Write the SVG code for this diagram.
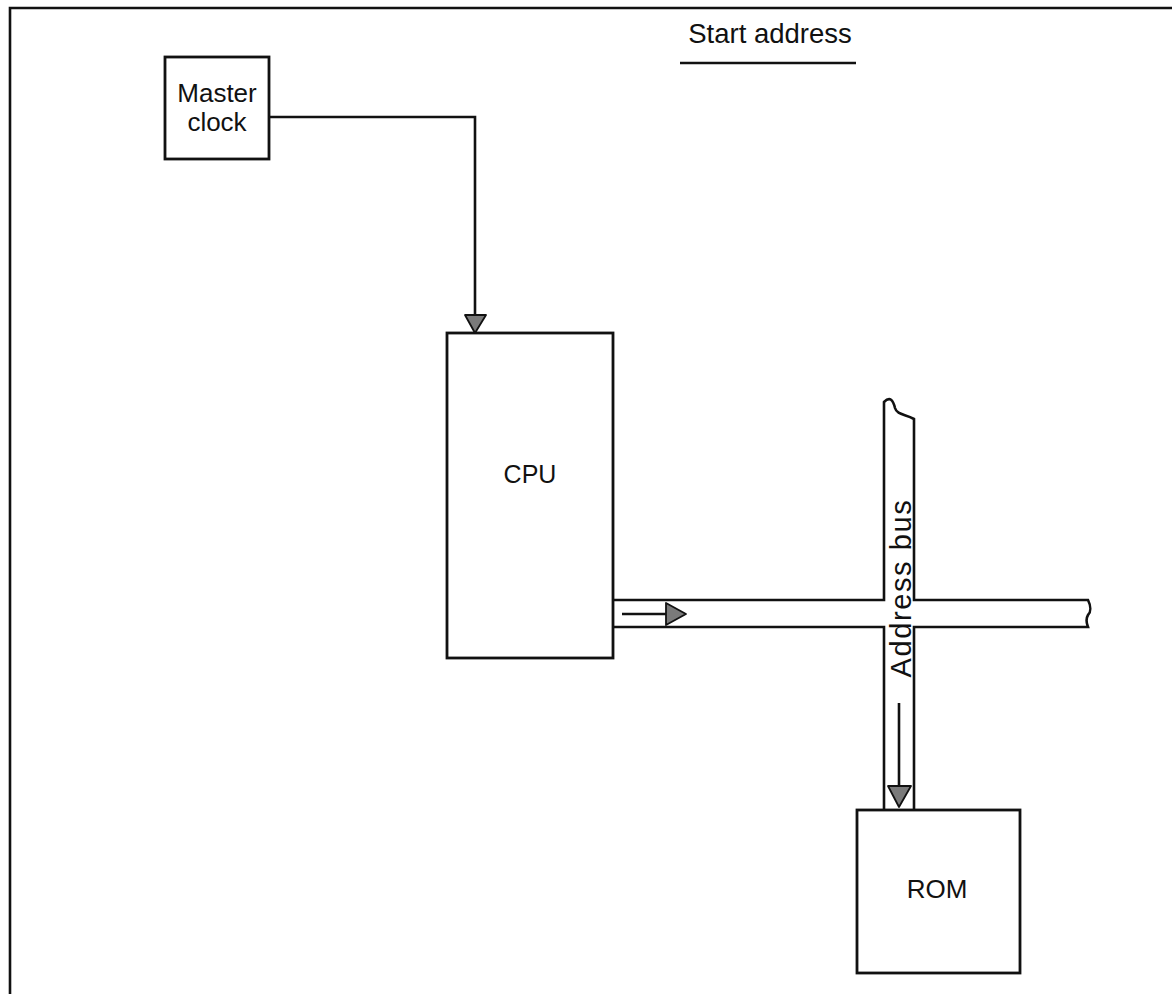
<svg xmlns="http://www.w3.org/2000/svg" width="1172" height="994" viewBox="0 0 1172 994">
<style>
.box{fill:#fff;stroke:#111;stroke-width:2.8}
.ln{fill:none;stroke:#111;stroke-width:2.6}
.lbl{font-family:"Liberation Sans",Arial,sans-serif;font-size:25px;fill:#111}
.head{fill:#7a7a7a;stroke:#111;stroke-width:1.8;stroke-linejoin:round}
</style>
<rect width="1172" height="994" fill="#fff"/>
<path class="ln" d="M10,994 V8 H1172"/>
<g id="title">
<text class="lbl" x="770" y="43" text-anchor="middle" style="font-size:27.5px">Start address</text>
<line class="ln" x1="680" y1="63" x2="856" y2="63"/>
</g>
<g id="bus">
<path fill="#fff" stroke="none" d="M613,600 H884 V402 C890,396 893,400 895,408 C897,415 905,414 914,419 V600 H1088 C1091,606 1091,612 1088,615 C1085,620 1087,624 1088,627 H914 V810 H884 V627 H613 Z"/>
<path class="ln" d="M613,600 H884 V402 C890,396 893,400 895,408 C897,415 905,414 914,419 V600 H1088 C1091,606 1091,612 1088,615 C1085,620 1087,624 1088,627 H914 V810"/>
<path class="ln" d="M613,627 H884 V810"/>
<text class="lbl" transform="translate(911,588) rotate(-90)" text-anchor="middle" style="font-size:29px;letter-spacing:1.6px">Address bus</text>
</g>
<g id="clock">
<rect class="box" x="165" y="57" width="104" height="102"/>
<text class="lbl" x="217" y="102" text-anchor="middle" style="font-size:26px">Master</text>
<text class="lbl" x="217" y="131" text-anchor="middle" style="font-size:26px">clock</text>
</g>
<g id="cpu">
<rect class="box" x="447" y="333" width="166" height="325"/>
<text class="lbl" x="530" y="483" text-anchor="middle">CPU</text>
</g>
<g id="rom">
<rect class="box" x="857" y="810" width="163" height="163"/>
<text class="lbl" x="937" y="898" text-anchor="middle" style="font-size:26px">ROM</text>
</g>
<g id="connectors">
<path class="ln" d="M269,117 H475 V316"/>
<path class="head" d="M465,315 H486 L475,333 Z"/>
<line class="ln" x1="622" y1="614" x2="668" y2="614"/>
<path class="head" d="M666,603 L686,614 L666,625 Z"/>
<line class="ln" x1="899" y1="703" x2="899" y2="788"/>
<path class="head" d="M888,786 H911 L899,807 Z"/>
</g>
</svg>
